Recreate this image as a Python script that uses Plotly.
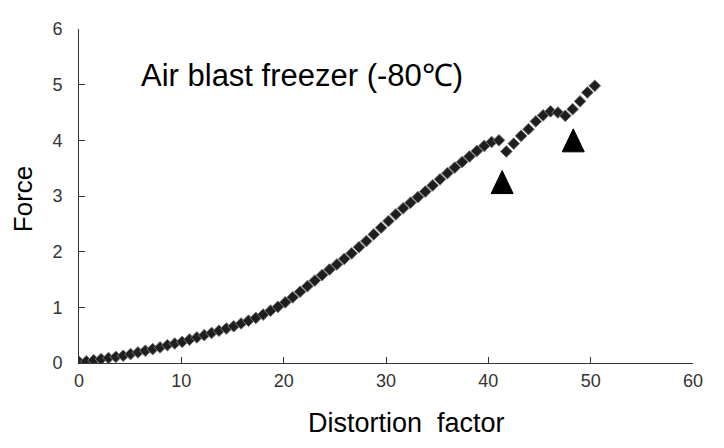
import plotly.graph_objects as go

# Force vs distortion factor (air blast freezer, -80C)
distortion = [0.00, 0.72, 1.44, 2.16, 2.88, 3.60, 4.32, 5.04, 5.76, 6.48,
              7.20, 7.92, 8.64, 9.36, 10.08, 10.80, 11.52, 12.24, 12.96, 13.68,
              14.40, 15.12, 15.84, 16.56, 17.28, 18.00, 18.72, 19.44, 20.16, 20.88,
              21.60, 22.32, 23.04, 23.76, 24.48, 25.20, 25.92, 26.64, 27.36, 28.08,
              28.80, 29.52, 30.24, 30.96, 31.68, 32.40, 33.12, 33.84, 34.56, 35.28,
              36.00, 36.72, 37.44, 38.16, 38.88, 39.60, 40.32, 41.04, 41.76, 42.48,
              43.20, 43.92, 44.64, 45.36, 46.08, 46.80, 47.52, 48.24, 48.96, 49.68,
              50.40]
force = [0.02, 0.03, 0.05, 0.07, 0.09, 0.11, 0.13, 0.16, 0.19, 0.22,
         0.25, 0.28, 0.32, 0.35, 0.38, 0.42, 0.46, 0.50, 0.54, 0.58,
         0.62, 0.66, 0.71, 0.76, 0.81, 0.87, 0.94, 1.01, 1.09, 1.18,
         1.28, 1.38, 1.48, 1.58, 1.68, 1.77, 1.87, 1.97, 2.08, 2.19,
         2.31, 2.43, 2.55, 2.67, 2.78, 2.88, 2.98, 3.08, 3.19, 3.30,
         3.41, 3.51, 3.61, 3.71, 3.81, 3.90, 3.97, 4.00, 3.80, 3.94,
         4.08, 4.20, 4.34, 4.45, 4.52, 4.50, 4.44, 4.56, 4.70, 4.86,
         4.98]

# arrow markers pointing at the breaks
arrow_x = [41.35, 48.3]
arrow_y = [3.25, 4.0]

x_ticks = [0, 10, 20, 30, 40, 50, 60]
y_ticks = [0, 1, 2, 3, 4, 5, 6]

fig = go.Figure()

fig.add_trace(go.Scatter(x=distortion, y=force, mode='markers',
                         marker=dict(symbol='diamond', size=9, color='#1e1e1e',
                                     line=dict(color='#777777', width=1)),
                         showlegend=False))

# tall triangles, anchored on the data points, sized in pixels
shapes = []
for ax, ay in zip(arrow_x, arrow_y):
    shapes.append(dict(type='path', xref='x', yref='y',
                       xsizemode='pixel', ysizemode='pixel', xanchor=ax, yanchor=ay,
                       path='M -11,-11.5 L 11,-11.5 L 0,11.5 Z',
                       fillcolor='#000000', line=dict(color='#000000', width=1)))

# the page body has an 8px margin, so the figure is 8px smaller
fig.update_layout(
    width=716, height=440,
    margin=dict(l=71, r=31, t=11, b=85),
    paper_bgcolor='white', plot_bgcolor='white',
    font=dict(family='Liberation Sans, Arial, sans-serif', color='#000000'),
    shapes=shapes,
    annotations=[
        dict(text='Air blast freezer (-80℃)', x=5.9, y=5.17, xref='x', yref='y',
             xanchor='left', yanchor='middle', showarrow=False,
             font=dict(size=31, color='#000000')),
        dict(text='Distortion  factor', x=0.533, y=-0.18, xref='paper', yref='paper',
             xanchor='center', yanchor='middle', showarrow=False,
             font=dict(size=27, color='#000000')),
        dict(text='Force', x=-0.091, y=0.491, xref='paper', yref='paper',
             xanchor='center', yanchor='middle', showarrow=False, textangle=-90,
             font=dict(size=26, color='#000000')),
    ],
)

fig.update_xaxes(range=[0, 60], tickvals=x_ticks, ticks='inside', ticklen=6,
                 tickcolor='#333333', showline=True, linecolor='#333333', linewidth=1,
                 showgrid=False, zeroline=False, ticklabelstandoff=1,
                 tickfont=dict(size=18, color='#333333'))
fig.update_yaxes(range=[0, 6], tickvals=y_ticks, ticks='inside', ticklen=6,
                 tickcolor='#333333', showline=True, linecolor='#333333', linewidth=1,
                 showgrid=False, zeroline=False, ticklabelstandoff=12,
                 tickfont=dict(size=18, color='#333333'))

fig.write_html("out.html")
